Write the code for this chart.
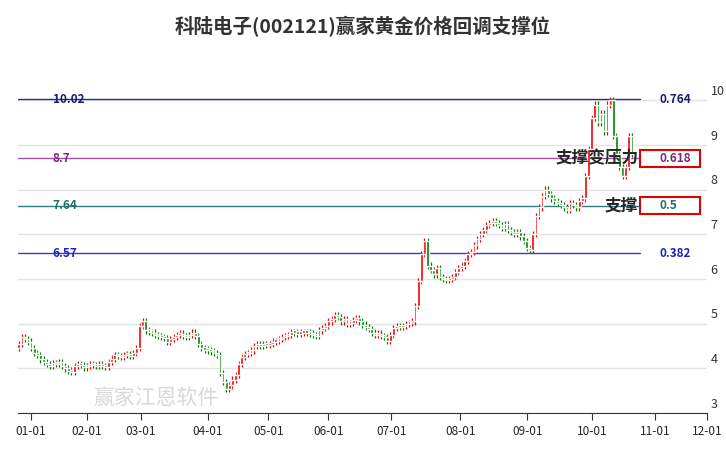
import numpy as np, pandas as pd, seaborn as sns
import matplotlib
matplotlib.use("Agg")
import matplotlib.pyplot as plt
from matplotlib.patches import Rectangle

sns.set_style("white")
plt.rcParams['font.family'] = ['Noto Sans CJK SC', 'DejaVu Sans']

closes = [4.55,4.70,4.65,4.60,
 4.45,4.35,4.30,4.20,4.15,4.10,4.05,4.12,4.10,4.15,4.05,4.00,3.95,3.92,4.05,4.10,4.08,4.02,4.05,4.10,4.08,4.05,
 4.10,4.05,4.03,4.15,4.22,4.30,4.28,4.26,4.30,4.32,4.28,4.35,4.45,4.95,5.05,
 4.85,4.82,4.80,4.75,4.72,4.70,4.68,4.60,4.65,4.70,4.75,4.78,4.72,4.70,4.74,4.80,4.72,4.55,4.45,4.42,4.40,
 4.38,4.35,4.30,3.90,3.70,3.55,3.62,3.75,3.85,4.10,4.25,4.32,4.35,4.40,4.50,4.55,4.50,4.55,4.52,4.55,
 4.60,4.62,4.65,4.70,4.72,4.75,4.82,4.80,4.78,4.80,4.82,4.80,4.78,4.75,4.72,4.85,4.90,4.95,5.05,5.10,
 5.20,5.15,5.05,5.10,5.00,5.02,5.08,5.12,5.05,4.98,4.92,4.88,4.80,4.75,4.78,4.72,4.70,4.62,4.75,
 4.90,4.95,4.92,4.95,5.00,5.02,5.05,5.40,5.95,6.55,6.85,6.30,6.20,6.10,6.25,6.05,6.00,5.98,6.00,6.05,6.15,6.25,6.30,
 6.40,6.55,6.60,6.75,6.90,7.00,7.10,7.20,7.25,7.30,7.25,7.20,7.15,7.22,7.10,7.05,7.00,7.05,6.95,6.85,6.70,6.65,
 7.00,7.40,7.60,7.85,8.00,7.90,7.80,7.75,7.70,7.65,7.60,7.55,7.70,7.65,7.60,7.75,7.80,8.30,8.90,
 9.60,9.90,9.50,9.70,9.30,9.90,10.00,9.20,8.80,8.50,8.30,8.50,9.20,8.80]

fib_values = [10.02, 8.7, 7.64, 6.57]
fib_labels = ["10.02", "8.7", "7.64", "6.57"]
fib_ratios = ["0.764", "0.618", "0.5", "0.382"]
fib_colors = ["#2a2a9a", "#a050a0", "#2e7d7d", "#3a3ad0"]
label_colors = ["#1a1a70", "#7a2a7a", "#1f6f6f", "#2020c0"]
month_labels = ["01-01","02-01","03-01","04-01","05-01","06-01","07-01","08-01","09-01","10-01","11-01","12-01"]
month_pos = [3.9, 21.9, 39.4, 61, 80.6, 100, 120.3, 142.6, 164.2, 185.2, 205.5, 222.3]

df = pd.DataFrame({"close": closes})
df["i"] = np.arange(len(df))
df["open"] = df["close"].shift(1).fillna(4.45)
df["hi"] = df[["open","close"]].max(axis=1) + 0.07
df["lo"] = df[["open","close"]].min(axis=1) - 0.07
df["up"] = df["close"] >= df["open"]

fig = plt.figure(figsize=(7.26, 4.5), dpi=100)
ax = fig.add_axes([0.025, 0.082, 0.949, 0.785])
x = df["i"].values
col = np.where(df["up"], "#f00000", "#008000")
ax.vlines(x, df["lo"], df["hi"], colors=col, lw=0.9, zorder=3)
body = (df["close"] - df["open"]).abs().clip(lower=0.05)
ax.bar(x, body, bottom=df[["open","close"]].min(axis=1), width=0.85, color=col, zorder=4)

x0, x1 = -0.2, 222.3
xe, xr = 200.6, 207
ax.set_xlim(x0, x1)
ax.set_ylim(3.0, 10.9)
for v in range(3, 11):
    ax.axhline(v, color="#e3e3e3", lw=1, zorder=0)
    ax.text(1.005, v + 0.05, str(v), transform=ax.get_yaxis_transform(), fontsize=9, color="#333", va="bottom")
ax.set_yticks([])
for v, lab, r, c, lc in zip(fib_values, fib_labels, fib_ratios, fib_colors, label_colors):
    ax.plot([x0, xe], [v, v], color=c, lw=1, zorder=2)
    ax.text(11, v, lab, color=lc, fontsize=8.5, fontweight="bold", va="center", ha="left")
    ax.text(xr, v, r, color=lc, fontsize=8.5, fontweight="bold", va="center")
for v in (8.7, 7.64):
    ax.add_patch(Rectangle((xe, v - 0.19), 19.4, 0.38, fill=False, ec="#e00000", lw=1.5, zorder=5))
ax.text(xe - 0.5, 8.7, "支撑变压力", fontsize=12, fontweight="bold", ha="right", va="center", zorder=6)
ax.text(xe - 0.5, 7.64, "支撑", fontsize=12, fontweight="bold", ha="right", va="center", zorder=6)
ax.text(24, 3.35, "赢家江恩软件", fontsize=15, color="#d8d8d8", ha="left", va="center", zorder=1)

ax.set_xticks(month_pos)
ax.set_xticklabels(month_labels, fontsize=8.5)
ax.tick_params(axis="x", length=5, color="#333", direction="out", bottom=True)
for s in ("top", "right", "left"):
    ax.spines[s].set_visible(False)
ax.spines["bottom"].set_color("#333")
fig.suptitle("科陆电子(002121)赢家黄金价格回调支撑位", y=0.965, fontsize=14, fontweight="bold", color="#333")
fig.savefig("out.png", dpi=100)
